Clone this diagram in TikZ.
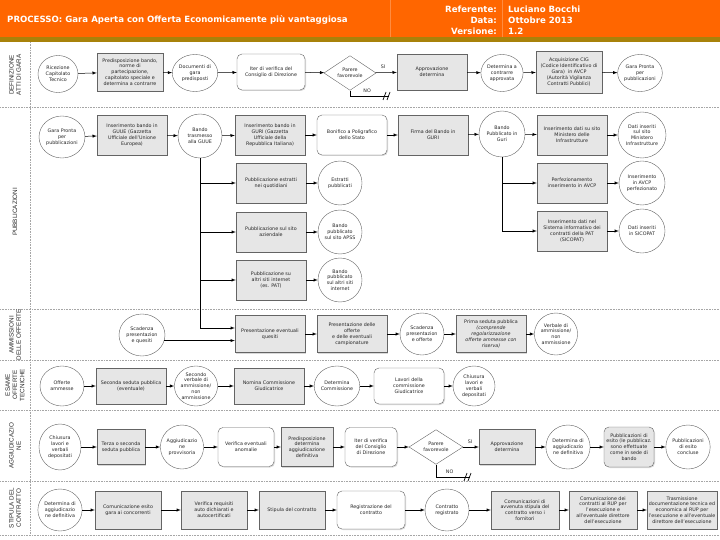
\documentclass[tikz,border=0pt]{standalone}
\usepackage{fontspec}
\setmainfont{DejaVu Sans}
\newfontfamily\lanefont{Liberation Sans}
\usepackage{xcolor}
\usepackage{tikz}
\usetikzlibrary{shapes.geometric,shadows}

\definecolor{headorange}{RGB}{255,102,0}
\definecolor{headgold}{RGB}{168,130,10}
\definecolor{boxgray}{RGB}{230,230,230}
\definecolor{edgegray}{RGB}{100,100,100}

\newcommand{\boxfont}{\fontsize{4.8}{5.8}\selectfont}
\newcommand{\headfont}{\fontsize{8.6}{10}\selectfont\bfseries}

\tikzset{
  every node/.style={font=\boxfont, text=black!85},
  gbox/.style={rectangle, draw=edgegray, fill=boxgray, align=center,
    minimum width=70pt, minimum height=38pt, inner sep=1pt,
    drop shadow={shadow xshift=1pt, shadow yshift=-1pt, opacity=0.3}},
  rbox/.style={gbox, fill=white, rounded corners=5pt},
  rgbox/.style={gbox, rounded corners=5pt},
  circ/.style={ellipse, draw=edgegray, fill=white, align=center,
    minimum width=42pt, minimum height=40pt, inner sep=0pt},
  dia/.style={diamond, draw=edgegray, fill=white, align=center,
    minimum width=52pt, minimum height=30pt, inner sep=0pt},
  arr/.style={-latex, draw=black, line width=0.5pt},
  lane/.style={gray!70, densely dotted, line width=0.6pt},
  lanelabel/.style={rotate=90, align=center, font=\lanefont\fontsize{6.3}{7.3}\selectfont},
  head/.style={font=\headfont, text=white, inner sep=0pt},
}

\begin{document}
\begin{tikzpicture}[x=1pt, y=-1pt]
    \useasboundingbox (0,0) rectangle (720,540);

    % Header band
    \fill[headorange] (0,0) rectangle (720,37);
    \fill[headgold] (0,37) rectangle (720,42);
    \draw[headorange!75!white, line width=0.6pt] (390,0) -- (390,37);
    \draw[headorange!75!white, line width=0.6pt] (502,0) -- (502,37);
    \node[head, anchor=west] (title) at (7,20) {PROCESSO: Gara Aperta con Offerta Economicamente più vantaggiosa};
    \node[head, anchor=east] (refl) at (497,9) {Referente:};
    \node[head, anchor=east] (datl) at (497,20) {Data:};
    \node[head, anchor=east] (verl) at (497,31) {Versione:};
    \node[head, anchor=west] (refv) at (508,9) {Luciano Bocchi};
    \node[head, anchor=west] (datv) at (508,20) {Ottobre 2013};
    \node[head, anchor=west] (verv) at (508,31) {1.2};

    % Swimlanes
    \foreach \y in {107,309,360,410,481,535}
        \draw[lane] (0,\y) -- (720,\y);
    \draw[lane] (30,42) -- (30,535);
    \node[lanelabel] (lab1) at (15,75) {DEFINIZIONE\\ATTI DI GARA};
    \node[lanelabel] (lab2) at (15,212) {PUBBLICAZIONI};
    \node[lanelabel] (lab3) at (15,335) {AMMISSIONI\\DELLE OFFERTE};
    \node[lanelabel] (lab4) at (15,385) {ESAME\\OFFERTE\\TECNICHE};
    \node[lanelabel] (lab5) at (15,446) {AGGIUDICAZIO\\NE};
    \node[lanelabel] (lab6) at (15,508) {STIPULA DEL\\CONTRATTO};

    % Definizione atti di gara
    \node[circ, minimum width=40pt, minimum height=37pt] (rc) at (58,74) {Ricezione\\Capitolato\\Tecnico};
    \node[gbox, minimum width=66pt] (pb) at (130,72) {Predisposizione bando,\\norme di\\partecipazione,\\capitolato speciale e\\determina a contrarre};
    \node[circ, minimum width=38pt, minimum height=37pt] (dg) at (195,73) {Documenti di\\gara\\predisposti};
    \node[rbox, minimum width=68pt, minimum height=36pt] (iv) at (271,72) {Iter di verifica del\\Consiglio di Direzione};
    \node[dia] (pf) at (350,73) {Parere\\favorevole};
    \node[gbox, minimum height=36pt] (ad) at (432,72) {Approvazione\\determina};
    \node[circ, minimum width=40pt, minimum height=37pt] (dc) at (502,73) {Determina a\\contrarre\\approvata};
    \node[gbox, minimum width=66pt, minimum height=42pt] (ac) at (569,72) {Acquisizione CIG\\(Codice Identificativo di\\Gara)\ \ in AVCP\\(Autorità Vigilanza\\Contratti Pubblici)};
    \node[circ, minimum width=40pt, minimum height=37pt] (gp) at (640,73) {Gara Pronta\\per\\pubblicazioni};
    \coordinate (no1) at (389,96);

    \draw[arr] (rc) -- (pb);
    \draw[arr] (pb) -- (dg);
    \draw[arr] (dg) -- (iv);
    \draw[arr] (iv) -- (pf);
    \draw[arr] (pf) -- node[pos=0.35, above] {SI} (ad);
    \draw[arr] (ad) -- (dc);
    \draw[arr] (dc) -- (ac);
    \draw[arr] (ac) -- (gp);
    \draw[line width=0.5pt] (pf.south) |- node[pos=0.72, above] {NO} (no1);
    \draw[line width=0.7pt] (383,100) -- (386,92);
    \draw[line width=0.7pt] (387,100) -- (390,92);

    % Pubblicazioni
    \node[circ, minimum width=46pt, minimum height=42pt] (gp2) at (62,137) {Gara Pronta\\per\\pubblicazioni};
    \node[gbox, minimum height=40pt] (gu) at (132,135) {Inserimento bando in\\GUUE (Gazzetta\\Ufficiale dell'Unione\\Europea)};
    \node[circ, minimum width=44pt, minimum height=44pt] (bt) at (200,136) {Bando\\trasmesso\\alla GUUE};
    \node[gbox, minimum height=40pt] (gr) at (270,135) {Inserimento bando in\\GURI (Gazzetta\\Ufficiale della\\Repubblica Italiana)};
    \node[rbox, minimum height=40pt] (bo) at (352,135) {Bonifico a Poligrafico\\dello Stato};
    \node[gbox, minimum height=40pt] (fi) at (433,135) {Firma del Bando in\\GURI};
    \node[circ, minimum width=46pt, minimum height=46pt] (bg) at (502,134) {Bando\\Pubblicato in\\Guri};
    \node[gbox, minimum height=40pt] (im) at (572,135) {Inserimento dati su sito\\Ministero delle\\Infrastrutture};
    \node[circ, minimum width=48pt, minimum height=46pt] (di) at (642,135) {Dati inseriti\\sul sito\\Ministero\\Infrastrutture};

    \node[gbox, minimum height=40pt] (pe) at (271,183) {Pubblicazione estratti\\nei quotidiani};
    \node[circ, minimum width=44pt, minimum height=44pt] (ep) at (340,183) {Estratti\\pubblicati};
    \node[gbox, minimum height=40pt] (ps) at (271,232) {Pubblicazione sul sito\\aziendale};
    \node[circ, minimum width=44pt, minimum height=44pt] (ba) at (340,232) {Bando\\pubblicato\\sul sito APSS};
    \node[gbox, minimum height=40pt] (pa) at (271,280) {Pubblicazione su\\altri siti internet\\(es. PAT)};
    \node[circ, minimum width=44pt, minimum height=44pt] (bi) at (340,280) {Bando\\pubblicato\\sul altri siti\\internet};

    \node[gbox, minimum height=40pt] (pv) at (572,183) {Perfezionamento\\inserimento in AVCP};
    \node[circ, minimum width=46pt, minimum height=44pt] (ia) at (642,183) {Inserimento\\in AVCP\\perfezionato};
    \node[gbox, minimum height=40pt] (is) at (572,231) {Inserimento dati nel\\Sistema informativo dei\\contratti della PAT\\(SICOPAT)};
    \node[circ, minimum width=46pt, minimum height=44pt] (ds) at (642,231) {Dati inseriti\\in SICOPAT};

    \draw[arr] (gp2) -- (gu);
    \draw[arr] (gu) -- (bt);
    \draw[arr] (bt) -- (gr);
    \draw[arr] (gr) -- (bo);
    \draw[arr] (bo) -- (fi);
    \draw[arr] (fi) -- (bg);
    \draw[arr] (bg) -- (im);
    \draw[arr] (im) -- (di);
    \draw[arr] (bt.south |- pe.west) -- (pe.west);
    \draw[arr] (bt.south |- ps.west) -- (ps.west);
    \draw[arr] (bt.south |- pa.west) -- (pa.west);
    \draw[arr] (pe) -- (ep);
    \draw[arr] (ps) -- (ba);
    \draw[arr] (pa) -- (bi);
    \draw[arr] (bg.south) |- (is.west);
    \draw[arr] (bg.south |- pv.west) -- (pv.west);
    \draw[arr] (pv) -- (ia);
    \draw[arr] (is) -- (ds);

    % Ammissione delle offerte
    \node[circ, minimum width=46pt, minimum height=42pt] (sq) at (142,335) {Scadenza\\presentazion\\e quesiti};
    \node[gbox, minimum height=37pt] (pq) at (270,334) {Presentazione eventuali\\quesiti};
    \node[gbox, minimum height=37pt] (po) at (352,334) {Presentazione delle\\offerte\\e delle eventuali\\campionature};
    \node[circ, minimum width=44pt, minimum height=42pt] (so) at (422,334) {Scadenza\\presentazion\\e offerte};
    \node[gbox, minimum height=37pt] (ps1) at (491,334) {Prima seduta pubblica\\\textit{(comprende}\\\textit{regolarizzazione}\\\textit{offerte ammesse con}\\\textit{riserva)}};
    \node[circ, minimum width=42pt, minimum height=42pt] (va) at (556,334) {Verbale di\\ammissione/\\non\\ammissione};
    \coordinate (jq) at ([yshift=6pt]pq.west);

    \draw[arr] (bt.south) |- (jq);
    \draw[arr] (sq.-14) -- (sq.-14 -| pq.west);
    \draw[arr] (pq) -- (po);
    \draw[arr] (po) -- (so);
    \draw[arr] (so) -- (ps1);
    \draw[arr] (ps1) -- (va);

    % Esame offerte tecniche
    \node[circ, minimum width=44pt, minimum height=40pt] (oa) at (62,386) {Offerte\\ammesse};
    \node[gbox, minimum height=36pt] (ss) at (131,386) {Seconda seduta pubblica\\(eventuale)};
    \node[circ, minimum width=42pt, minimum height=40pt] (sv) at (196,386) {Secondo\\verbale di\\ammissione/\\non\\ammissione};
    \node[gbox, minimum height=36pt] (nc) at (269,386) {Nomina Commissione\\Giudicatrice};
    \node[circ, minimum width=42pt, minimum height=40pt] (dcm) at (337,386) {Determina\\Commissione};
    \node[rbox, minimum height=36pt] (lc) at (409,386) {Lavori della\\commissione\\Giudicatrice};
    \node[circ, minimum width=42pt, minimum height=40pt] (cl) at (474,386) {Chiusura\\lavori e\\verbali\\depositati};

    \draw[arr] (oa) -- (ss);
    \draw[arr] (ss) -- (sv);
    \draw[arr] (sv) -- (nc);
    \draw[arr] (nc) -- (dcm);
    \draw[arr] (dcm) -- (lc);
    \draw[arr] (lc) -- (cl);

    % Aggiudicazione
    \node[circ, minimum width=42pt, minimum height=46pt] (cl2) at (60,447) {Chiusura\\lavori e\\verbali\\depositati};
    \node[gbox, minimum width=48pt, minimum height=35pt] (ts) at (121,447) {Terza o seconda\\seduta pubblica};
    \node[circ, minimum width=40pt, minimum height=44pt] (ap) at (182,447) {Aggiudicazio\\ne\\provvisoria};
    \node[rbox, minimum width=56pt, minimum height=39pt] (ve) at (246,447) {Verifica eventuali\\anomalie};
    \node[gbox, minimum width=52pt, minimum height=39pt] (pd) at (307,447) {Predisposizione\\determina\\aggiudicazione\\definitiva};
    \node[rbox, minimum width=52pt, minimum height=39pt] (iv2) at (371,447) {Iter di verifica\\del Consiglio\\di Direzione};
    \node[dia, minimum width=54pt, minimum height=34pt] (pf2) at (436,447) {Parere\\favorevole};
    \node[gbox, minimum width=56pt, minimum height=35pt] (ad2) at (507,447) {Approvazione\\determina};
    \node[circ, minimum width=42pt, minimum height=44pt] (da) at (568,447) {Determina di\\aggiudicazio\\ne definitiva};
    \node[rgbox, minimum width=50pt, minimum height=40pt] (pu) at (629,447) {Pubblicazioni di\\esito (le pubblicaz.\\sono effettuate\\come in sede di\\bando};
    \node[circ, minimum width=42pt, minimum height=44pt] (pc) at (688,447) {Pubblicazioni\\di esito\\concluse};
    \coordinate (no2) at (470,477);

    \draw[arr] (cl2) -- (ts);
    \draw[arr] (ts) -- (ap);
    \draw[arr] (ap) -- (ve);
    \draw[arr] (ve) -- (pd);
    \draw[arr] (pd) -- (iv2);
    \draw[arr] (iv2) -- (pf2);
    \draw[arr] (pf2) -- node[pos=0.45, above] {SI} (ad2);
    \draw[arr] (ad2) -- (da);
    \draw[arr] (da) -- (pu);
    \draw[arr] (pu) -- (pc);
    \draw[line width=0.5pt] (pf2.south) |- node[pos=0.7, above] {NO} (no2);
    \draw[line width=0.7pt] (464,481) -- (467,473);
    \draw[line width=0.7pt] (468,481) -- (471,473);

    % Stipula del contratto
    \node[circ, minimum width=44pt, minimum height=42pt] (da2) at (60,510) {Determina di\\aggiudicazio\\ne definitiva};
    \node[gbox, minimum width=66pt] (ce) at (128,510) {Comunicazione esito\\gara ai concorrenti};
    \node[gbox, minimum width=66pt] (vr) at (214,510) {Verifica requisiti\\auto dichiarati e\\autocertificati};
    \node[gbox, minimum width=66pt] (sc) at (292,510) {Stipula del contratto};
    \node[rbox, minimum width=68pt] (rg) at (371,510) {Registrazione del\\contratto};
    \node[circ, minimum width=44pt, minimum height=42pt] (cr) at (447,510) {Contratto\\registrato};
    \node[gbox, minimum width=68pt] (cv) at (525,510) {Comunicazioni di\\avvenuta stipula del\\contratto verso i\\fornitori};
    \node[gbox, minimum width=68pt] (cd) at (603,510) {Comunicazione dei\\contratti al RUP per\\l'esecuzione e\\all'eventuale direttore\\dell'esecuzione};
    \node[gbox, minimum width=70pt] (tr) at (682,510) {Trasmissione\\documentazione tecnica ed\\economica al RUP per\\l'esecuzione e all'eventuale\\direttore dell'esecuzione};

    \draw[arr] (da2) -- (ce);
    \draw[arr] (ce) -- (vr);
    \draw[arr] (vr) -- (sc);
    \draw[arr] (sc) -- (rg);
    \draw[arr] (rg) -- (cr);
    \draw[arr] (cr) -- (cv);
    \draw[arr] (cv) -- (cd);
    \draw[arr] (cd) -- (tr);
\end{tikzpicture}
\end{document}
